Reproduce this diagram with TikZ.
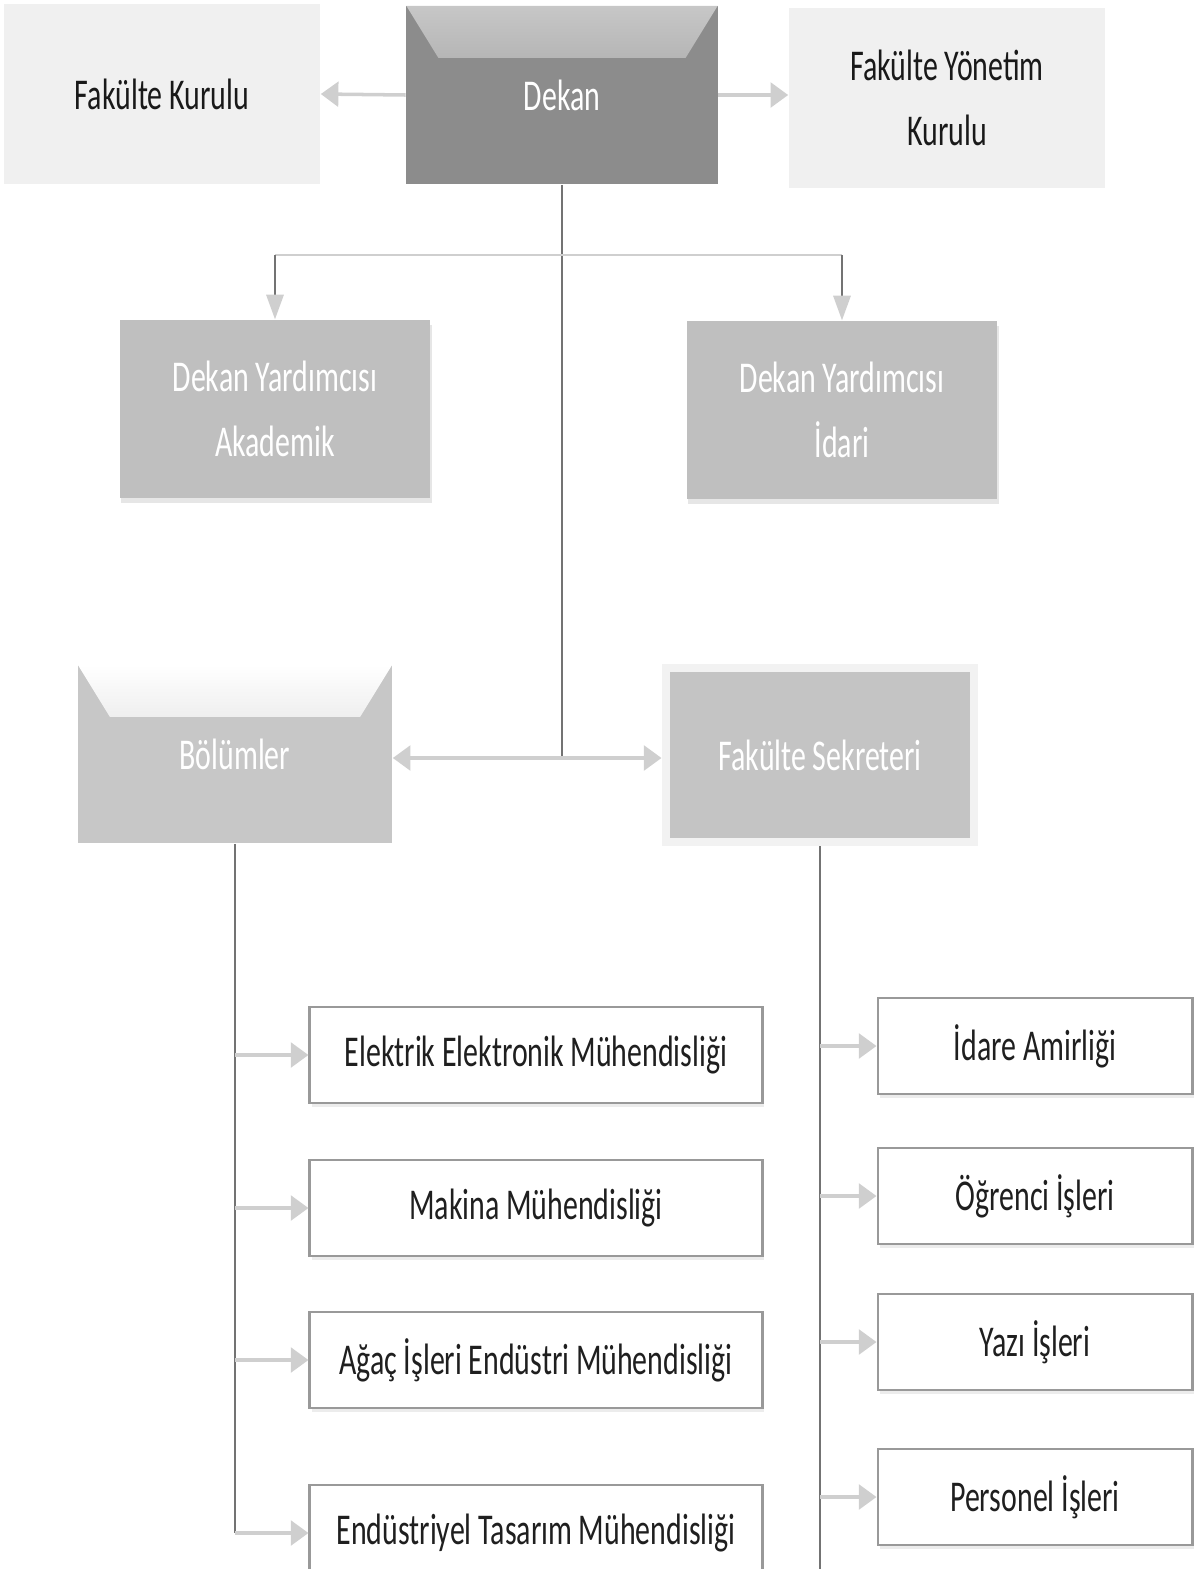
\documentclass[tikz,border=0pt]{standalone}
\usepackage{fontspec}
\setmainfont{Carlito}[FakeStretch=0.68]
\usetikzlibrary{arrows.meta,positioning,calc,shadows}

\newcommand{\boxfont}{\fontsize{12.5}{18.5}\selectfont}

\tikzset{
  bevel/.style 2 args={path picture={
      \shade[top color=#1, bottom color=#2]
        (path picture bounding box.north west) -- (path picture bounding box.north east)
        -- ([xshift=-0.32cm,yshift=-0.52cm]path picture bounding box.north east)
        -- ([xshift=0.32cm,yshift=-0.52cm]path picture bounding box.north west) -- cycle;}},
  lightbox/.style={fill=gray!12, minimum width=3.16cm, minimum height=1.8cm, align=center, font=\boxfont, text=black!90},
  darkbox/.style={fill=black!45, bevel={black!22}{black!45}, text=white, minimum width=3.11cm, minimum height=1.78cm, font=\boxfont},
  midbox/.style={fill=black!25, text=white, minimum width=3.1cm, minimum height=1.78cm, align=center, font=\boxfont,
    drop shadow={opacity=0.2, shadow xshift=0.4pt, shadow yshift=-1.5pt}},
  halfbevel/.style={fill=black!22, bevel={white}{black!22}, text=white, minimum width=3.14cm, minimum height=1.78cm, font=\boxfont},
  sekrbox/.style={fill=black!23, draw=gray!10, line width=2.5pt, text=white, minimum width=3.08cm, minimum height=1.74cm, font=\boxfont},
  unitbox/.style={fill=white, draw=black!40, line width=0.8pt, minimum height=0.96cm, font=\boxfont, text=black!88,
    drop shadow={opacity=0.15, shadow xshift=0.5pt, shadow yshift=-1pt}},
  feed/.style={draw=gray!38, line width=1pt, -{Triangle[width=7pt,length=5pt]}},
  drop/.style={draw=black!55, line width=0.4pt, -{Triangle[width=5pt,length=7pt,color=gray!38]}},
  spine/.style={draw=black!55, line width=0.4pt},
  thinbar/.style={draw=gray!38, line width=0.7pt}
}

\begin{document}
\begin{tikzpicture}[x=0.01cm, y=-0.01cm]
  % Define dimensions
  \useasboundingbox (0,0) rectangle (1200,1569);
  \clip (0,0) rectangle (1200,1569);

  % Top row
  \node[lightbox] (kurul) at (162,94) {Fakülte Kurulu};
  \node[darkbox] (dekan) at (562,95) {Dekan};
  \node[lightbox] (yonetim) at (947,98) {Fakülte Yönetim\\Kurulu};

  % Deputies
  \node[midbox] (dyak) at (275,409) {Dekan Yardımcısı\\Akademik};
  \node[midbox] (dyid) at (842,410) {Dekan Yardımcısı\\İdari};

  % Second level
  \node[halfbevel] (bolum) at (235,754) {Bölümler};
  \node[sekrbox] (sekr) at (820,755) {Fakülte Sekreteri};

  % Departments
  \foreach \name/\y/\txt in {eem/1055/Elektrik Elektronik Mühendisliği,
      makina/1208/Makina Mühendisliği,
      agac/1360/Ağaç İşleri Endüstri Mühendisliği,
      endustri/1533/Endüstriyel Tasarım Mühendisliği}
    \node[unitbox, minimum width=4.52cm] (\name) at (536,\y) {\txt};

  % Offices
  \foreach \name/\y/\txt in {idare/1046/İdare Amirliği,
      ogrenci/1196/Öğrenci İşleri,
      yazi/1342/Yazı İşleri,
      personel/1497/Personel İşleri}
    \node[unitbox, minimum width=3.14cm] (\name) at (1035,\y) {\txt};

  % Define points
  \coordinate (bar) at (562,255);
  \coordinate (hub) at (562,758);
  \coordinate (floor) at (0,1569);

  % Draw connectors
  \draw[feed] (dekan.west) -- (kurul.east);
  \draw[feed] (dekan.east) -- (dekan.east -| yonetim.west);
  \draw[spine] (dekan.south) -- (hub);
  \draw[thinbar] (dyak.north |- bar) -- (dyid.north |- bar);
  \draw[drop] (dyak.north |- bar) -- (dyak.north);
  \draw[drop] (dyid.north |- bar) -- (dyid.north);
  \draw[feed] (hub) -- (hub -| bolum.east);
  \draw[feed] (hub) -- (hub -| sekr.west);

  % Draw spines
  \draw[spine] (bolum.south) -- (bolum.south |- endustri.west);
  \foreach \name in {eem, makina, agac, endustri}
    \draw[feed] (bolum.south |- \name.west) -- (\name.west);
  \draw[spine] (sekr.south) -- (sekr.south |- floor);
  \foreach \name in {idare, ogrenci, yazi, personel}
    \draw[feed] (sekr.south |- \name.west) -- (\name.west);
\end{tikzpicture}
\end{document}
